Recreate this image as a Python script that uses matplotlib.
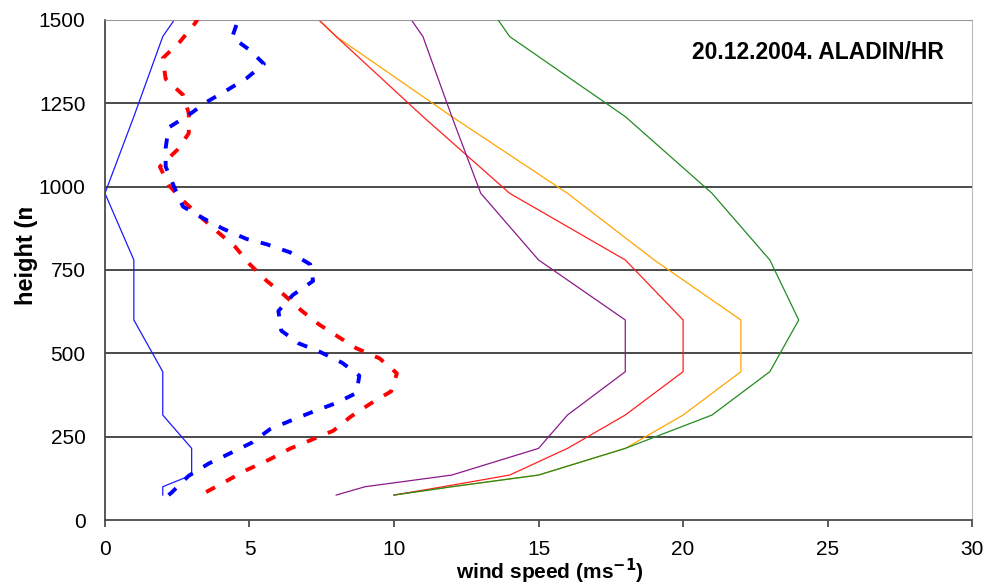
import matplotlib
matplotlib.use("Agg")
import matplotlib.pyplot as plt
from matplotlib.transforms import Bbox

plt.rcParams["font.family"] = ["Liberation Sans", "DejaVu Sans"]

# model levels (m) and ALADIN/HR wind speeds (m/s)
levels = [75, 100, 135, 215, 315, 445, 600, 780, 980, 1210, 1450, 1700]
wind_green = [10, 12, 15, 18, 21, 23, 24, 23, 21, 18, 14, 12]
wind_orange = [10, 12, 15, 18, 20, 22, 22, 19, 16, 12, 8, 5]
wind_red = [10, 11.7, 14, 16, 18, 20, 20, 18, 14, 11, 8, 5]
wind_purple = [8, 9, 12, 15, 16, 18, 18, 15, 13, 12, 11, 9]
wind_blue = [2, 2, 3, 3, 2, 2, 1, 1, 0, 1, 2, 4]

# sounding profiles (dashed)
obs_red_h = [84, 117, 150, 182, 214, 239, 268, 310, 350, 386, 440, 485, 515,
             548, 587, 628, 675, 717, 768, 820, 864, 910, 958, 1005, 1060,
             1110, 1160, 1220, 1275, 1323, 1385, 1435, 1488, 1540]
obs_red_v = [3.5, 4.2, 4.9, 5.7, 6.4, 7.1, 7.9, 8.5, 9.2, 9.9, 10.1, 9.5, 8.7,
             8.1, 7.4, 6.8, 6.2, 5.6, 5.0, 4.5, 3.9, 3.3, 2.7, 2.2, 1.9,
             2.5, 2.9, 2.9, 2.7, 2.1, 2.0, 2.6, 3.1, 3.5]
obs_blue_h = [75, 82, 133, 170, 199, 233, 272, 301, 325, 351, 381, 433, 472,
              506, 530, 568, 627, 675, 717, 767, 803, 827, 843, 873, 905,
              940, 998, 1060, 1115, 1177, 1215, 1253, 1288, 1325, 1368, 1410,
              1448, 1498, 1540]
obs_blue_v = [2.2, 2.3, 2.9, 3.6, 4.3, 5.1, 5.7, 6.5, 7.2, 8.0, 8.7, 8.8, 8.2,
              7.4, 6.7, 6.1, 6.0, 6.5, 7.2, 7.1, 6.4, 5.6, 4.9, 4.1, 3.4,
              2.7, 2.4, 2.1, 2.1, 2.2, 2.9, 3.5, 4.2, 4.9, 5.5, 5.0,
              4.4, 4.6, 4.8]

x_ticks = [0, 5, 10, 15, 20, 25, 30]
y_ticks = [0, 250, 500, 750, 1000, 1250, 1500]


def main():
    fig = plt.figure(figsize=(9.9, 5.85), dpi=100)
    ax = fig.add_axes([0.106, 0.111, 0.876, 0.855])

    for h in y_ticks[1:]:
        ax.axhline(h, color="#3c3c3c", lw=1.3, zorder=1)

    ax.plot(wind_green, levels, color="#228B22", lw=0.9, zorder=3)
    ax.plot(wind_orange, levels, color="#FFA500", lw=0.9, zorder=2)
    ax.plot(wind_red, levels, color="#FF2020", lw=0.9, zorder=2)
    ax.plot(wind_purple, levels, color="#8B1A8B", lw=0.9, zorder=2)
    ax.plot(wind_blue, levels, color="#1a1aff", lw=0.9, zorder=2)

    dash = (0, (2.6, 3.2))
    ax.plot(obs_red_v, obs_red_h, color="#FF0000", lw=2.8,
            linestyle=dash, zorder=4)
    ax.plot(obs_blue_v, obs_blue_h, color="#0000FF", lw=2.8,
            linestyle=dash, zorder=4)

    ax.set_xlim(0, 30)
    ax.set_ylim(0, 1500)
    ax.set_xticks(x_ticks)
    ax.set_yticks(y_ticks)
    ax.tick_params(axis="both", direction="out", width=1.2,
                   colors="#404040", labelcolor="black", labelsize=15)
    ax.tick_params(axis="x", length=5, pad=9)
    ax.tick_params(axis="y", length=0, pad=14)

    for s in ["left", "bottom"]:
        ax.spines[s].set_color("#4a4a4a")
        ax.spines[s].set_linewidth(1.3)
    ax.spines["top"].set_color("#999999")
    ax.spines["right"].set_color("#bbbbbb")

    ax.text(0.822, 0.934, "20.12.2004. ALADIN/HR", transform=ax.transAxes,
            ha="center", va="center", fontsize=16.5, fontweight="bold")

    fig.text(0.555, 0.023, "wind speed (ms$^{\\mathbf{-1}}$)", ha="center",
             va="center", fontsize=15, fontweight="bold")

    # y label is cut off in the original
    yl = fig.text(0.027, 0.577, "height (m)", rotation=90, ha="center",
                  va="center", fontsize=17, fontweight="bold")
    yl.set_clip_box(Bbox.from_extents(0, 0, 990, 585 - 208))
    yl.set_clip_on(True)

    fig.savefig("out.png", dpi=100)
    plt.close(fig)


if __name__ == "__main__":
    main()
